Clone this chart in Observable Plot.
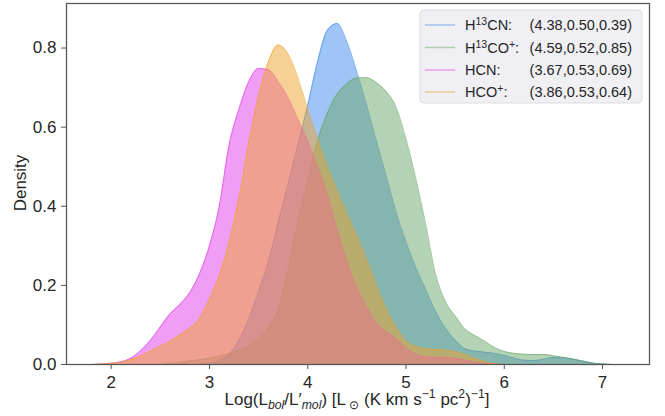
<!DOCTYPE html>
<html><head><meta charset="utf-8">
<script src="https://cdn.jsdelivr.net/npm/d3@7"></script>
<script src="https://cdn.jsdelivr.net/npm/@observablehq/plot@0.6"></script>
<style>body{margin:0;background:#fff;} svg{display:block}</style>
</head><body><div id="chart"></div>
<script>
// x grid (log ratio) shared by all density curves
const xGrid = [1.8,1.9,2.0,2.1,2.2,2.3,2.4,2.5,2.6,2.7,2.8,2.9,3.0,3.1,3.2,3.3,3.4,3.5,3.6,3.7,3.8,3.9,4.0,4.1,4.2,4.3,4.4,4.5,4.6,4.7,4.8,4.9,5.0,5.1,5.2,5.3,5.4,5.5,5.6,5.7,5.8,5.9,6.0,6.1,6.2,6.3,6.4,6.5,6.6,6.7,6.8,6.9,7.0,7.1,7.2];
// density values
const h13cn = [0,0,0,0,0,0,0,0,0,0,0,0.001,0.003,0.009,0.025,0.062,0.115,0.185,0.26,0.36,0.455,0.555,0.655,0.765,0.845,0.862,0.815,0.74,0.655,0.565,0.475,0.385,0.31,0.245,0.19,0.135,0.092,0.062,0.04,0.034,0.031,0.028,0.023,0.016,0.011,0.01,0.013,0.018,0.017,0.013,0.008,0.003,0.001,0,0];
const h13cop = [0,0,0,0,0,0,0,0,0.003,0.006,0.009,0.012,0.016,0.021,0.028,0.036,0.046,0.065,0.092,0.14,0.24,0.36,0.46,0.565,0.635,0.684,0.71,0.724,0.725,0.712,0.69,0.65,0.57,0.47,0.355,0.23,0.16,0.123,0.09,0.073,0.059,0.043,0.033,0.028,0.026,0.025,0.025,0.022,0.018,0.014,0.009,0.004,0.001,0,0];
const hcn = [0,0.001,0.003,0.007,0.016,0.035,0.061,0.095,0.128,0.152,0.182,0.23,0.30,0.40,0.555,0.645,0.715,0.748,0.745,0.715,0.675,0.62,0.565,0.50,0.43,0.34,0.26,0.195,0.145,0.105,0.082,0.066,0.042,0.026,0.019,0.018,0.017,0.015,0.011,0.006,0.003,0.001,0,0,0,0,0,0,0,0,0,0,0,0,0];
const hcop = [0,0.001,0.003,0.006,0.012,0.022,0.034,0.046,0.059,0.075,0.092,0.117,0.165,0.225,0.31,0.42,0.56,0.68,0.765,0.808,0.785,0.725,0.645,0.57,0.50,0.44,0.38,0.325,0.265,0.20,0.14,0.095,0.06,0.045,0.04,0.038,0.036,0.032,0.025,0.015,0.007,0.002,0,0,0,0,0,0,0,0,0,0,0,0,0];

const seriesStats = ["(4.38,0.50,0.39)","(4.59,0.52,0.85)","(3.67,0.53,0.69)","(3.86,0.53,0.64)"];
const colors = ["#3d8beb","#69a569","#e13deb","#efa12d"];
const xTicks = [2,3,4,5,6,7];
const yTicks = [0,0.2,0.4,0.6,0.8];

const series = [h13cn, h13cop, hcn, hcop];
const FONT = "'Liberation Sans', Arial, sans-serif";

const marks = [];
series.forEach((vals, i) => {
  const data = xGrid.map((x, j) => ({x, y: vals[j]}));
  marks.push(Plot.areaY(data, {x: "x", y: "y", fill: colors[i], fillOpacity: 0.5, curve: "monotone-x"}));
  marks.push(Plot.lineY(data, {x: "x", y: "y", stroke: colors[i], strokeOpacity: 0.6, strokeWidth: 1, curve: "monotone-x"}));
});
marks.push(Plot.axisX({ticks: xTicks, tickSize: 5, tickPadding: 6, label: null, tickFormat: d3.format("d"), stroke: "#555", fill: "#262626", fontSize: 17}));
marks.push(Plot.axisY({ticks: yTicks, tickSize: 5, tickPadding: 5, label: null, tickFormat: d3.format(".1f"), stroke: "#555", fill: "#262626", fontSize: 17}));
marks.push(Plot.frame({stroke: "#555", strokeWidth: 1.25}));

const chart = Plot.plot({
  width: 665, height: 416,
  marginLeft: 66, marginRight: 16, marginTop: 3, marginBottom: 52,
  x: {domain: [1.545, 7.478]},
  y: {domain: [0, 0.9126]},
  style: {fontFamily: FONT, background: "#fff", color: "#262626"},
  marks
});
document.getElementById("chart").appendChild(chart);

const svg = d3.select(chart);
// y label
svg.append("text").attr("transform", "translate(22,183) rotate(-90)")
  .attr("text-anchor", "middle").attr("dominant-baseline", "middle")
  .style("font-family", FONT).style("font-size", "17px").attr("fill", "#262626").text("Density");

// x label with sub/superscripts
const XF = 17;
const xl = svg.append("text").attr("x", 357).attr("y", 405).attr("text-anchor", "middle")
  .style("font-family", FONT).style("font-size", XF + "px").attr("fill", "#262626");
const parts = [
  ["Log(L", 0, false, 1],
  ["bol", 4, true, 0.72],
  ["/L′", -4, false, 1],
  ["mol", 4, true, 0.72],
  [") [L", -4, false, 1],
  [" ⊙", 4, false, 0.72],
  [" (K km s", -4, false, 1],
  ["−1", -7, false, 0.72],
  [" pc", 7, false, 1],
  ["2", -7, false, 0.72],
  [")", 7, false, 1],
  ["−1", -7, false, 0.72],
  ["]", 7, false, 1]
];
parts.forEach(([t, dy, it, sc]) => {
  xl.append("tspan").attr("dy", dy).style("font-size", (XF * sc) + "px")
    .style("font-style", it ? "italic" : "normal").text(t);
});

// legend
const LF = 14.5;
const lg = svg.append("g").attr("text-anchor", "start");
lg.append("rect").attr("x", 420).attr("y", 10).attr("width", 222).attr("height", 93).attr("rx", 4)
  .attr("fill", "#efeff4").attr("stroke", "#dcdce2").attr("stroke-width", 1);
const labelParts = [
  [["H", 0], ["13", 1], ["CN:", 0]],
  [["H", 0], ["13", 1], ["CO", 0], ["+", 1], [":", 0]],
  [["HCN:", 0]],
  [["HCO", 0], ["+", 1], [":", 0]]
];
const rowY = [25, 47.5, 70, 92];
labelParts.forEach((lp, i) => {
  const y = rowY[i];
  lg.append("line").attr("x1", 425).attr("x2", 455).attr("y1", y).attr("y2", y)
    .attr("stroke", colors[i]).attr("stroke-opacity", 0.45).attr("stroke-width", 1.5);
  const t = lg.append("text").attr("x", 465).attr("y", y + 5).attr("text-anchor", "start")
    .style("font-family", FONT).style("font-size", LF + "px").attr("fill", "#262626");
  let prevSup = 0;
  lp.forEach(([s, sup]) => {
    const dy = sup === prevSup ? 0 : (sup ? -5 : 5);
    t.append("tspan").attr("dy", dy).style("font-size", sup ? "10.5px" : LF + "px").text(s);
    prevSup = sup;
  });
  lg.append("text").attr("x", 632).attr("y", y + 5).attr("text-anchor", "end")
    .style("font-family", FONT).style("font-size", LF + "px").attr("fill", "#262626").text(seriesStats[i]);
});
</script>
</body></html>
